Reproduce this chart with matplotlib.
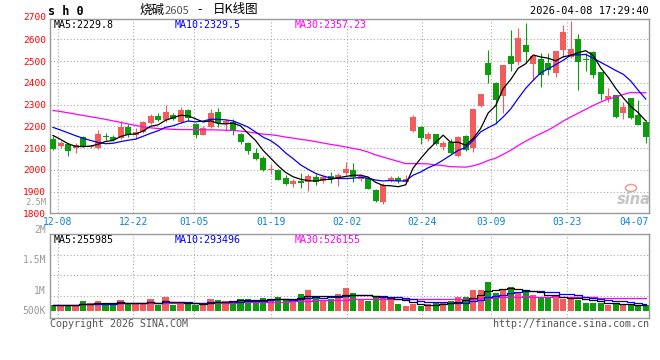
import matplotlib
matplotlib.use("Agg")
import matplotlib.pyplot as plt
from matplotlib.patches import Ellipse
import numpy as np
import pandas as pd

# ---------------- data ----------------
opens = [2142, 2110, 2119, 2100, 2149, 2106, 2099, 2155, 2152, 2145,
         2198, 2160, 2172, 2217, 2249, 2229, 2252, 2221, 2275, 2209,
         2160, 2198, 2267, 2211, 2221, 2163, 2122, 2079, 2053, 1999,
         1999, 1961, 1935, 1950, 1942, 1969, 1949, 1971, 1961, 1984,
         1999, 1956, 1961, 1907, 1854, 1949, 1962, 1946, 2180, 2198,
         2142, 2163, 2106, 2129, 2064, 2157, 2099, 2294, 2493, 2401,
         2340, 2523, 2497, 2574, 2487, 2510, 2493, 2447, 2551, 2520,
         2602, 2508, 2540, 2450, 2327, 2344, 2260, 2332, 2252, 2220]
highs = [2154, 2131, 2125, 2122, 2157, 2114, 2183, 2168, 2160, 2225,
         2209, 2191, 2226, 2257, 2260, 2298, 2260, 2287, 2278, 2214,
         2202, 2280, 2286, 2234, 2234, 2168, 2129, 2099, 2064, 2027,
         2002, 1976, 1956, 1984, 1981, 1981, 1976, 1988, 1984, 2038,
         2030, 1979, 1969, 1912, 1938, 1971, 1971, 1976, 2252, 2202,
         2174, 2163, 2131, 2140, 2155, 2160, 2278, 2349, 2551, 2405,
         2482, 2643, 2651, 2674, 2523, 2539, 2539, 2546, 2666, 2684,
         2625, 2536, 2548, 2450, 2375, 2344, 2313, 2332, 2321, 2229]
lows = [2091, 2099, 2065, 2076, 2106, 2100, 2094, 2137, 2134, 2142,
        2152, 2140, 2168, 2211, 2226, 2221, 2229, 2217, 2226, 2145,
        2160, 2194, 2198, 2180, 2160, 2119, 2071, 2045, 1996, 1981,
        1953, 1930, 1923, 1918, 1904, 1930, 1941, 1941, 1927, 1976,
        1946, 1949, 1910, 1854, 1844, 1944, 1938, 1935, 2175, 2119,
        2134, 2114, 2091, 2073, 2060, 2088, 2083, 2287, 2401, 2211,
        2263, 2456, 2482, 2490, 2413, 2379, 2436, 2428, 2520, 2513,
        2367, 2456, 2421, 2321, 2313, 2240, 2232, 2235, 2206, 2122]
closes = [2096, 2125, 2088, 2113, 2110, 2110, 2165, 2153, 2137, 2198,
          2160, 2175, 2220, 2248, 2229, 2267, 2234, 2275, 2237, 2160,
          2194, 2260, 2214, 2226, 2180, 2129, 2088, 2050, 1999, 2003,
          1953, 1935, 1950, 1941, 1973, 1942, 1969, 1956, 1978, 2002,
          1969, 1971, 1913, 1857, 1930, 1962, 1949, 1956, 2244, 2148,
          2163, 2119, 2122, 2079, 2152, 2091, 2278, 2349, 2436, 2321,
          2482, 2487, 2608, 2540, 2523, 2436, 2459, 2546, 2634, 2556,
          2497, 2505, 2436, 2349, 2340, 2243, 2287, 2238, 2206, 2152]
volumes = [240000, 240000, 240000, 240000, 400000, 320000, 400000, 280000, 280000, 440000,
           280000, 320000, 320000, 480000, 240000, 560000, 240000, 320000, 280000, 240000,
           320000, 480000, 460000, 400000, 400000, 480000, 480000, 400000, 520000, 480000,
           560000, 440000, 440000, 680000, 840000, 600000, 440000, 480000, 680000, 920000,
           720000, 480000, 400000, 560000, 600000, 480000, 280000, 200000, 280000, 200000,
           280000, 320000, 320000, 400000, 560000, 560000, 840000, 840000, 1160000, 720000,
           840000, 960000, 760000, 840000, 640000, 520000, 520000, 600000, 480000, 560000,
           440000, 320000, 320000, 340000, 240000, 320000, 240000, 240000, 240000, 240000]

# moving-average values at the start of the window (history before the first candle)
ma5_head = [2158, 2140, 2120, 2108]
ma10_head = [2195, 2183, 2170, 2157, 2145, 2135, 2126, 2120, 2122]
ma30_head = [2273, 2268, 2262, 2256, 2250, 2244, 2238, 2232, 2225, 2218,
             2211, 2204, 2198, 2193, 2190, 2188, 2186, 2185, 2185, 2184,
             2184, 2184, 2183, 2182, 2181, 2178, 2174, 2169, 2164]

date_labels = ["12-08", "12-22", "01-05", "01-19", "02-02", "02-24", "03-09", "03-23"]
last_date_label = "04-07"
price_ticks = [1800, 1900, 2000, 2100, 2200, 2300, 2400, 2500, 2600]
price_top_label = 2700
vol_axis_labels = ["2.5M", "2M", "1.5M", "1M", "500K"]

price_ma_text = ["MA5:2229.8", "MA10:2329.5", "MA30:2357.23"]
vol_ma_text = ["MA5:255985", "MA10:293496", "MA30:526155"]
symbol = "s h 0"
title_name = "烧碱"
title_code = "2605"
title_tail = "日K线图"
timestamp = "2026-04-08 17:29:40"

# ---------------- layout constants (pixels) ----------------
W, H = 660, 360
L, R = 50, 649.3
MAIN_T, MAIN_B = 19, 213.3
VOL_T, VOL_B = 234, 318
X0, PITCH = 53, 7.503            # pixel of first candle, candle pitch
grid_px = [57.7, 133.3, 194.3, 270.7, 346.7, 422.3, 490.7, 566.7]
last_label_px = 634
vol_label_py = [202.3, 230, 260, 291, 311]
VOL_PX = 40000                   # volume per pixel in the volume panel

RED = "#f45c5c"
GREEN = "#0c9c0c"
GRIDC = "#aaaaaa"
SPINE = "#999999"
MONO = "DejaVu Sans Mono"
CJK = ["Noto Sans CJK SC", "DejaVu Sans"]

fig = plt.figure(figsize=(W / 100, H / 100), dpi=100)
fig.patch.set_facecolor("white")
ax = fig.add_axes([L / W, 1 - MAIN_B / H, (R - L) / W, (MAIN_B - MAIN_T) / H])
axv = fig.add_axes([L / W, 1 - VOL_B / H, (R - L) / W, (VOL_B - VOL_T) / H])


def px2idx(p):
    return (p - X0) / PITCH


def fxy(xp, yp):
    return xp / W, 1 - yp / H


o = np.array(opens, float)
h = np.array(highs, float)
lo = np.array(lows, float)
c = np.array(closes, float)
v = np.array(volumes, float)
n = len(c)
x = np.arange(n)
cols = np.where(c > o, RED, GREEN)

cs = pd.Series(c)
ma5 = cs.rolling(5).mean().to_numpy()
ma5[:len(ma5_head)] = ma5_head
ma10 = cs.rolling(10).mean().to_numpy()
ma10[:len(ma10_head)] = ma10_head
ma30 = cs.rolling(30).mean().to_numpy()
ma30[:len(ma30_head)] = ma30_head

vs = pd.Series(v)
vma5 = vs.rolling(5, min_periods=1).mean()
vma10 = vs.rolling(10, min_periods=1).mean()
vma30 = vs.rolling(30, min_periods=1).mean()

dot = (0, (1, 2))
for a in (ax, axv):
    a.set_xlim(px2idx(L), px2idx(R))
    for s in a.spines.values():
        s.set_color(SPINE)
        s.set_linewidth(1)
    a.tick_params(length=0)
    for g in grid_px:
        a.axvline(px2idx(g), color=GRIDC, lw=0.8, ls=dot, zorder=0)

# ---- main panel ----
ax.set_ylim(1800, 1800 + (MAIN_B - MAIN_T) / ((MAIN_B - 39.3) / 800))
for p in price_ticks[1:]:
    ax.axhline(p, color=GRIDC, lw=0.8, ls=dot, zorder=0)

ax.vlines(x, lo, h, colors=cols, lw=0.8, zorder=2)
body_b = np.minimum(o, c)
body_h = np.maximum(np.abs(c - o), 4.6)
ax.bar(x, body_h, bottom=body_b, width=0.8, color=cols, linewidth=0,
       antialiased=False, zorder=3)
ax.plot(x, ma30, color="#ff00ff", lw=0.9, zorder=4)
ax.plot(x, ma10, color="#0000ff", lw=0.9, zorder=4)
ax.plot(x, ma5, color="#000000", lw=0.9, zorder=4)

ax.set_yticks(price_ticks)
ax.set_yticklabels([str(t) for t in price_ticks], color="#ff0000",
                   fontfamily=MONO, fontsize=6.8)
ax.tick_params(axis="y", pad=3)
ax.text(-4 / (R - L), price_top_label, str(price_top_label), color="#ff0000",
        fontfamily=MONO, fontsize=6.8, ha="right", va="center",
        transform=ax.get_yaxis_transform(), clip_on=False)

xt = [px2idx(g) for g in grid_px] + [px2idx(last_label_px)]
ax.set_xticks(xt)
ax.set_xticklabels(date_labels + [last_date_label], color="#0a84d6",
                   fontfamily=MONO, fontsize=7)
ax.tick_params(axis="x", pad=2.5)

# ---- volume panel ----
axv.set_ylim(-(VOL_B - 311) * VOL_PX, (311 - VOL_T) * VOL_PX)
for f in (0.262, 0.512, 0.75):
    axv.plot([0, 1], [f, f], transform=axv.transAxes, color=GRIDC, lw=0.8,
             ls=dot, zorder=0)
axv.bar(x, v, width=0.82, color=cols, linewidth=0, antialiased=False, zorder=2)
axv.plot(x, vma30, color="#ff00ff", lw=0.9, drawstyle="steps-mid", zorder=3)
axv.plot(x, vma10, color="#0000ff", lw=0.9, drawstyle="steps-mid", zorder=3)
axv.plot(x, vma5, color="#000000", lw=0.9, drawstyle="steps-mid", zorder=3)
axv.set_xticks([])
axv.set_yticks([])

for i, (lab, yp) in enumerate(zip(vol_axis_labels, vol_label_py)):
    fig.text(*fxy(46, yp), lab, color="#999999", fontfamily=MONO,
             fontsize=6.3 if i == 0 else 7, ha="right", va="center")

# ---- texts ----
ma_cols = ["#000000", "#0000ff", "#ff00ff"]
ma_x = [54, 175, 295]
for t, col, xp in zip(price_ma_text, ma_cols, ma_x):
    fig.text(*fxy(xp, 25), t, color=col, fontfamily=MONO, fontsize=7.2,
             ha="left", va="center")
for t, col, xp in zip(vol_ma_text, ma_cols, ma_x):
    fig.text(*fxy(xp, 240), t, color=col, fontfamily=MONO, fontsize=7.2,
             ha="left", va="center")

fig.text(*fxy(48, 11.5), symbol, color="#000000", fontfamily=MONO,
         fontsize=8.5, fontweight="bold", ha="left", va="center")
fig.text(*fxy(140, 10), title_name, color="#000000", family=CJK, fontsize=9,
         ha="left", va="center")
fig.text(*fxy(165, 10.5), title_code, color="#555555", family=CJK, fontsize=8,
         ha="left", va="center")
fig.text(*fxy(197, 10), "-", color="#000000", family=CJK, fontsize=9,
         ha="left", va="center")
fig.text(*fxy(213, 10), title_tail, color="#000000", family=CJK, fontsize=9,
         ha="left", va="center")
fig.text(*fxy(649, 11), timestamp, color="#000000", fontfamily=MONO,
         fontsize=7.5, ha="right", va="center")

fig.text(*fxy(50, 324), "Copyright 2026 SINA.COM", color="#555555",
         fontfamily=MONO, fontsize=7.2, ha="left", va="center")
fig.text(*fxy(649, 324), "http://finance.sina.com.cn", color="#555555",
         fontfamily=MONO, fontsize=7.2, ha="right", va="center")

# sina watermark
fig.text(*fxy(634, 199), "sina", color="#c4c4c4", fontsize=10.5,
         fontstyle="italic", fontweight="bold", ha="center", va="center")
fig.patches.append(Ellipse(fxy(631, 188), 11 / W, 7 / H, transform=fig.transFigure,
                           facecolor="none", edgecolor="#f0a0a0", lw=1.2))

fig.savefig("out.png", dpi=100, facecolor="white")
